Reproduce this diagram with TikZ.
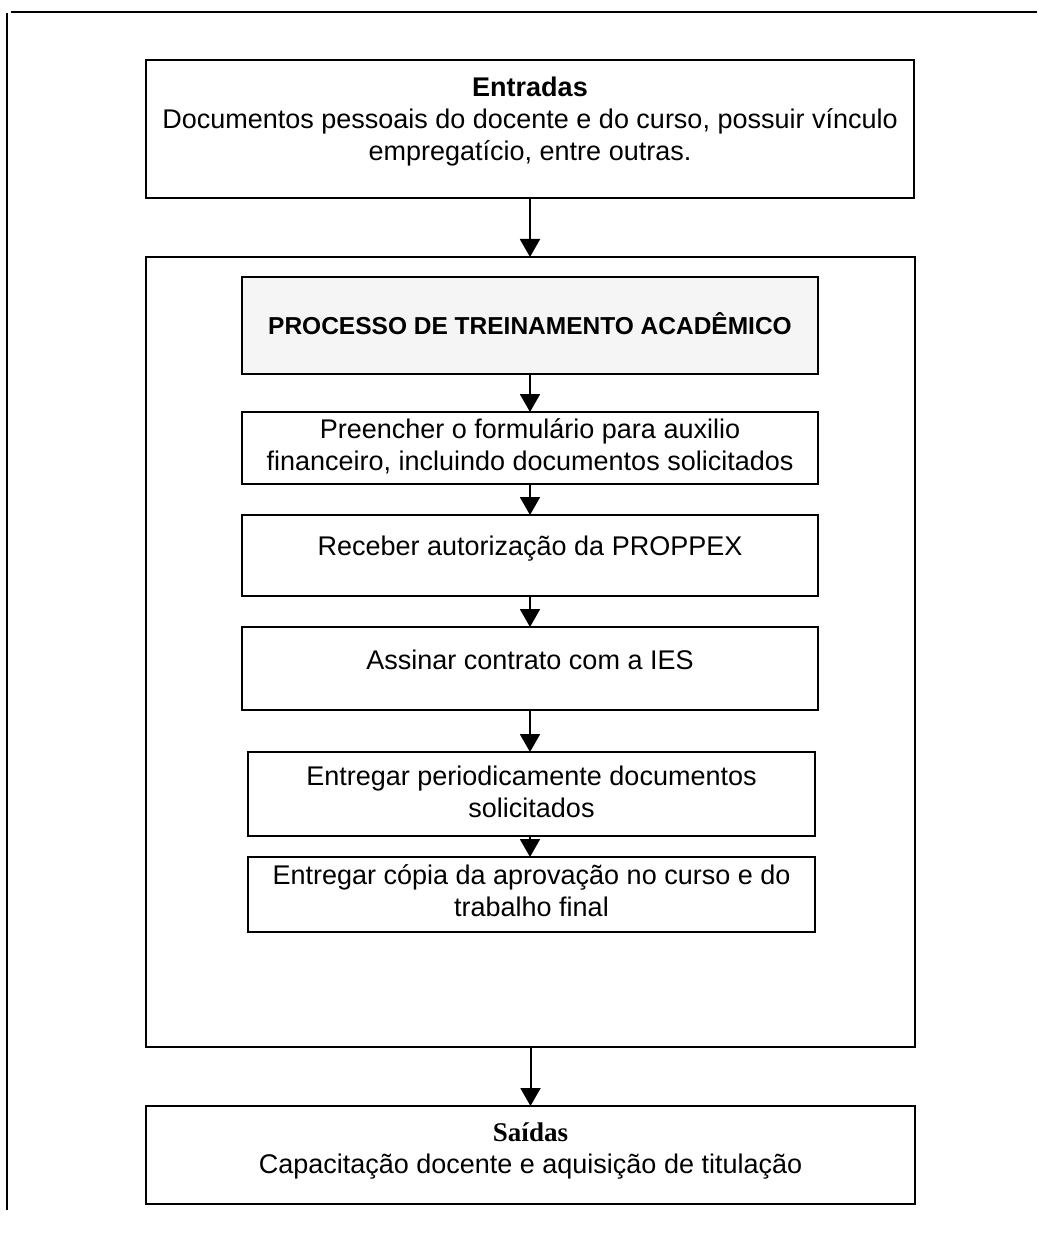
\documentclass[tikz,border=0pt]{standalone}
\usepackage{fontspec}
\setmainfont{Liberation Sans}
\newfontfamily\timesfont{Liberation Serif}
\usetikzlibrary{arrows.meta}
\begin{document}
\begin{tikzpicture}[x=1pt,y=-1pt,
  box/.style={draw=black, line width=2pt, inner sep=0pt, outer sep=0pt},
  txt/.style={align=center, font=\fontsize{27}{32}\selectfont, inner sep=0pt},
  flow/.style={draw=black, line width=2pt, -{Triangle[width=20pt,length=18pt]}},
  rule/.style={draw=black, line width=2pt},
]
\useasboundingbox (0,0) rectangle (1037,1233);

% page rules
\draw[rule] (11,12) -- (1037,12);
\draw[rule] (7,13) -- (7,1210);

% frames
\node[box, minimum width=768pt, minimum height=138pt] (entradas) at (530,129) {};
\node[box, minimum width=769pt, minimum height=790pt] (processo) at (530.5,652) {};
\node[box, fill=black!4, minimum width=576pt, minimum height=97pt] (titulo) at (530,325.5) {};
\node[box, minimum width=576pt, minimum height=72pt] (preencher) at (530,448) {};
\node[box, minimum width=576pt, minimum height=81pt] (receber) at (530,555.5) {};
\node[box, minimum width=576pt, minimum height=83pt] (assinar) at (530,668.5) {};
\node[box, minimum width=567pt, minimum height=84pt] (entregar) at (531.5,794) {};
\node[box, minimum width=567pt, minimum height=75pt] (copia) at (531.5,894.5) {};
\node[box, minimum width=769pt, minimum height=98pt] (saidas) at (530.5,1155) {};

% texts
\node[txt] (entradas-t) at (530,122) {\textbf{Entradas}\\Documentos pessoais do docente e do curso, possuir vínculo\\empregatício, entre outras.};
\node[txt, font=\fontsize{24.5}{30}\selectfont\bfseries] (titulo-t) at (530,324) {PROCESSO DE TREINAMENTO ACADÊMICO};
\node[txt] (preencher-t) at (530,446) {Preencher o formulário para auxilio\\financeiro, incluindo documentos solicitados};
\node[txt] (receber-t) at (530,549) {Receber autorização da PROPPEX};
\node[txt] (assinar-t) at (530,660) {Assinar contrato com a IES};
\node[txt] (entregar-t) at (531.5,792) {Entregar periodicamente documentos\\solicitados};
\node[txt] (copia-t) at (531.5,891) {Entregar cópia da aprovação no curso e do\\trabalho final};
\node[txt] (saidas-t) at (530.5,1151) {{\timesfont\bfseries Saídas}\\Capacitação docente e aquisição de titulação};

% flow
\draw[flow] (entradas.south) -- (entradas.south |- processo.north);
\draw[flow] (titulo.south) -- (preencher.north);
\draw[flow] (preencher.south) -- (receber.north);
\draw[flow] (receber.south) -- (assinar.north);
\draw[flow] (assinar.south) -- (assinar.south |- entregar.north);
\draw[flow] (assinar.south |- entregar.south) -- (assinar.south |- copia.north);
\draw[flow] (processo.south) -- (saidas.north);
\end{tikzpicture}
\end{document}
